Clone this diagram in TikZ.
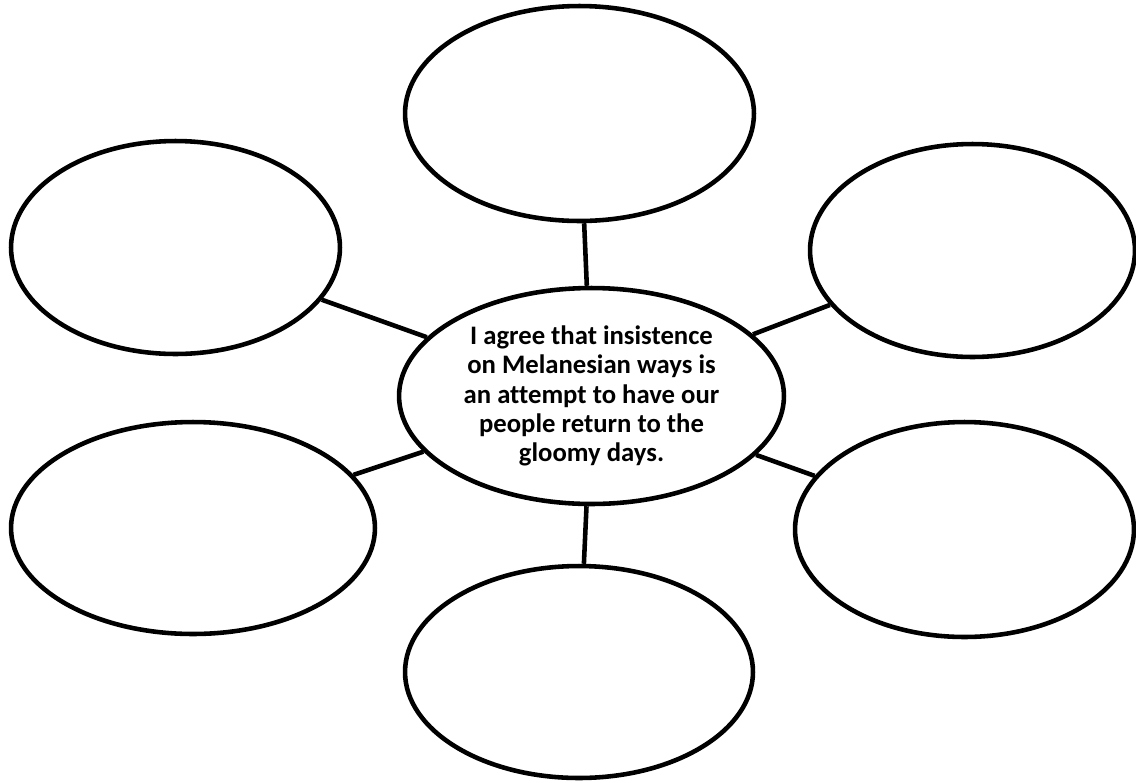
\documentclass[tikz,border=0pt]{standalone}
\usepackage{fontspec}
\setmainfont[Ligatures={NoCommon}]{Carlito}
\usetikzlibrary{shapes.geometric}
\tikzset{bubble/.style={ellipse, draw=black, line width=2.6pt, inner sep=0pt, fill=white}}

\begin{document}
\begin{tikzpicture}[x=0.02cm, y=-0.02cm, line width=2.6pt]
		%%%%% START %%%%%
		\useasboundingbox (0, 0) rectangle (1136, 782);
		
		\node[bubble, minimum width=7.70cm, minimum height=4.32cm, align=center, font=\fontsize{15.2}{16.7}\selectfont\bfseries] (mid) at (591.5, 396) {I agree that insistence\\on Melanesian ways is\\an attempt to have our\\people return to the\\gloomy days.};
		
		\node[bubble, minimum width=6.98cm, minimum height=4.30cm] (top) at (579.5, 113.5) {};
		\node[bubble, minimum width=6.58cm, minimum height=4.26cm] (tleft) at (175.5, 247.5) {};
		\node[bubble, minimum width=6.50cm, minimum height=4.26cm] (tright) at (972.5, 250.5) {};
		\node[bubble, minimum width=7.28cm, minimum height=4.24cm] (bleft) at (193, 528) {};
		\node[bubble, minimum width=6.78cm, minimum height=4.30cm] (bright) at (964.5, 529.5) {};
		\node[bubble, minimum width=6.96cm, minimum height=4.24cm] (bot) at (579, 672) {};
		
		\draw (mid) -- (top);
		\draw (mid) -- (tleft);
		\draw (mid) -- (tright);
		\draw (mid) -- (bleft);
		\draw (mid) -- (bright);
		\draw (mid) -- (bot);
		%%%%% END %%%%%
	\end{tikzpicture}
\end{document}
